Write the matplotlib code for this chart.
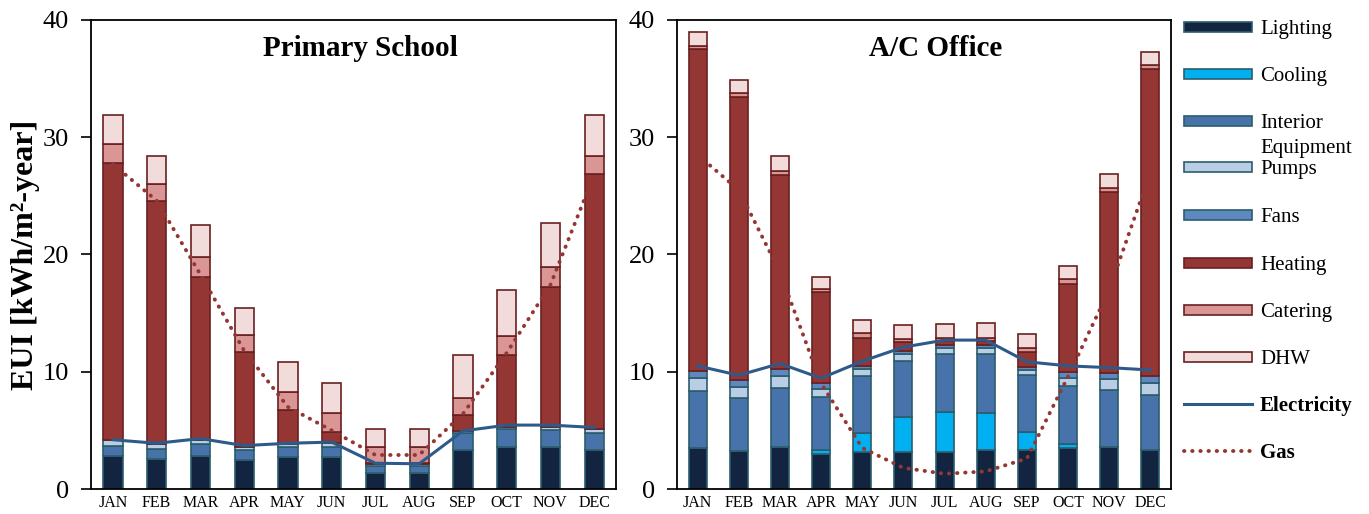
import numpy as np
import matplotlib
matplotlib.use("Agg")
import matplotlib.pyplot as plt
from matplotlib.patches import Rectangle
from matplotlib.lines import Line2D

plt.rcParams['font.family'] = ['Liberation Serif', 'DejaVu Serif']

months = ["JAN", "FEB", "MAR", "APR", "MAY", "JUN", "JUL", "AUG", "SEP", "OCT", "NOV", "DEC"]

# Primary school, kWh/m2 per month
school_lighting = [2.8, 2.55, 2.85, 2.45, 2.75, 2.75, 1.4, 1.4, 3.3, 3.55, 3.55, 3.3]
school_cooling = [0, 0, 0, 0, 0, 0, 0, 0, 0, 0, 0, 0]
school_equipment = [0.9, 0.9, 1.0, 0.85, 0.85, 0.85, 0.55, 0.55, 1.45, 1.55, 1.5, 1.5]
school_pumps = [0.5, 0.4, 0.35, 0.3, 0.25, 0.3, 0.15, 0.15, 0.2, 0.2, 0.2, 0.3]
school_fans = [0, 0, 0, 0, 0, 0, 0, 0, 0, 0, 0, 0]
school_heating = [23.6, 20.7, 13.9, 8.1, 2.9, 0.95, 0.1, 0.1, 1.35, 6.1, 12.0, 21.8]
school_catering = [1.6, 1.45, 1.7, 1.4, 1.5, 1.6, 1.35, 1.35, 1.5, 1.65, 1.65, 1.5]
school_dhw = [2.5, 2.4, 2.7, 2.3, 2.55, 2.55, 1.55, 1.55, 3.6, 3.95, 3.8, 3.5]
school_elec = [4.2, 3.9, 4.3, 3.7, 3.9, 4.0, 2.2, 2.15, 4.95, 5.45, 5.45, 5.25]
school_gas = [27.7, 24.6, 18.3, 11.8, 7.0, 5.0, 2.9, 2.9, 6.4, 11.6, 17.4, 26.8]

# A/C office
office_lighting = [3.47, 3.24, 3.55, 2.99, 3.13, 3.18, 3.18, 3.33, 3.33, 3.53, 3.6, 3.33]
office_cooling = [0, 0, 0, 0.34, 1.67, 2.92, 3.36, 3.17, 1.57, 0.31, 0, 0]
office_equipment = [4.89, 4.49, 5.09, 4.49, 4.86, 4.84, 4.95, 5.0, 4.8, 4.96, 4.84, 4.67]
office_pumps = [1.14, 1.0, 1.0, 0.68, 0.54, 0.56, 0.51, 0.5, 0.45, 0.7, 0.91, 1.07]
office_fans = [0.6, 0.57, 0.59, 0.5, 0.3, 0.3, 0.3, 0.3, 0.25, 0.5, 0.57, 0.57]
office_heating = [27.4, 24.16, 16.57, 7.8, 2.4, 0.7, 0.3, 0.3, 1.3, 7.45, 15.38, 26.16]
office_catering = [0.3, 0.3, 0.3, 0.3, 0.4, 0.3, 0.3, 0.25, 0.35, 0.45, 0.4, 0.4]
office_dhw = [1.15, 1.15, 1.3, 1.0, 1.1, 1.2, 1.15, 1.35, 1.15, 1.1, 1.2, 1.1]
office_elec = [10.5, 9.7, 10.7, 9.45, 10.9, 12.1, 12.7, 12.7, 10.85, 10.5, 10.35, 10.15]
office_gas = [28.5, 25.5, 18.5, 9.0, 3.5, 1.8, 1.3, 1.5, 2.6, 9.6, 17.0, 27.0]

labels = ["Lighting", "Cooling", "Interior\nEquipment", "Pumps", "Fans", "Heating", "Catering", "DHW"]
colors = ["#12243f", "#00b0f0", "#4773aa", "#b9cde5", "#5f88c2", "#943634", "#d99694", "#f2dcdb"]
edges = ["#2b5d6c"] * 5 + ["#6a2020"] * 3
elec_color = "#2e5a8a"
gas_color = "#943634"
gas_style = dict(color=gas_color, linewidth=2.8, linestyle=(0, (0.1, 2.0)), dash_capstyle="round")


def draw_panel(ax, title, series, elec, gas, title_x):
    x = np.arange(len(months))
    bottom = np.zeros(len(months))
    for vals, col, ec in zip(series, colors, edges):
        ax.bar(x, vals, 0.44, bottom=bottom, color=col, edgecolor=ec, linewidth=1.2, zorder=2)
        bottom += np.array(vals)
    ax.plot(x, elec, color=elec_color, linewidth=2.2, zorder=3)
    ax.plot(x, gas, zorder=3, **gas_style)
    ax.set_xlim(-0.5, 11.5)
    ax.set_ylim(0, 40)
    ax.set_yticks([0, 10, 20, 30, 40])
    ax.set_xticks(x)
    ax.set_xticklabels(months, fontsize=11.5)
    ax.tick_params(axis="x", length=0, pad=4)
    ax.tick_params(axis="y", direction="out", length=7, width=1.2, labelsize=19, pad=9)
    for s in ax.spines.values():
        s.set_linewidth(1.3)
        s.set_color("black")
    ax.text(title_x, 0.94, title, transform=ax.transAxes, ha="center", va="center",
            fontsize=21, fontweight="bold")


fig = plt.figure(figsize=(13.69, 5.14), dpi=100)
W, H = 1369, 514
ax1 = fig.add_axes([91 / W, 25 / H, 525 / W, 469 / H])
ax2 = fig.add_axes([677 / W, 25 / H, 494 / W, 469 / H])

draw_panel(ax1, "Primary School",
           [school_lighting, school_cooling, school_equipment, school_pumps, school_fans,
            school_heating, school_catering, school_dhw],
           school_elec, school_gas, 0.513)
draw_panel(ax2, "A/C Office",
           [office_lighting, office_cooling, office_equipment, office_pumps, office_fans,
            office_heating, office_catering, office_dhw],
           office_elec, office_gas, 0.523)

ax1.set_ylabel("EUI [kWh/m²-year]", fontsize=23, fontweight="bold")
ax1.yaxis.set_label_coords(-0.097, 0.5)

# legend drawn by hand so the two-line label keeps the same row spacing
rows = [27, 74, 121, 167, 215, 263, 310, 357, 404, 451]
x0, x1, tx = 1184, 1252, 1260
for lab, col, ec, yp in zip(labels, colors, edges, rows):
    fig.add_artist(Rectangle((x0 / W, 1 - (yp + 5) / H), (x1 - x0) / W, 10 / H,
                             transform=fig.transFigure, facecolor=col, edgecolor=ec, linewidth=1.2))
    for i, p in enumerate(lab.split("\n")):
        fig.text(tx / W, 1 - (yp + i * 25) / H, p, fontsize=15, va="center_baseline", ha="left")

fig.add_artist(Line2D([x0 / W, x1 / W], [1 - rows[8] / H] * 2, transform=fig.transFigure,
                      color=elec_color, linewidth=2.2))
fig.text(tx / W, 1 - rows[8] / H, "Electricity", fontsize=15, fontweight="bold", va="center_baseline")
fig.add_artist(Line2D([x0 / W, x1 / W], [1 - rows[9] / H] * 2, transform=fig.transFigure, **gas_style))
fig.text(tx / W, 1 - rows[9] / H, "Gas", fontsize=15, fontweight="bold", va="center_baseline")

fig.savefig("out.png", dpi=100)
